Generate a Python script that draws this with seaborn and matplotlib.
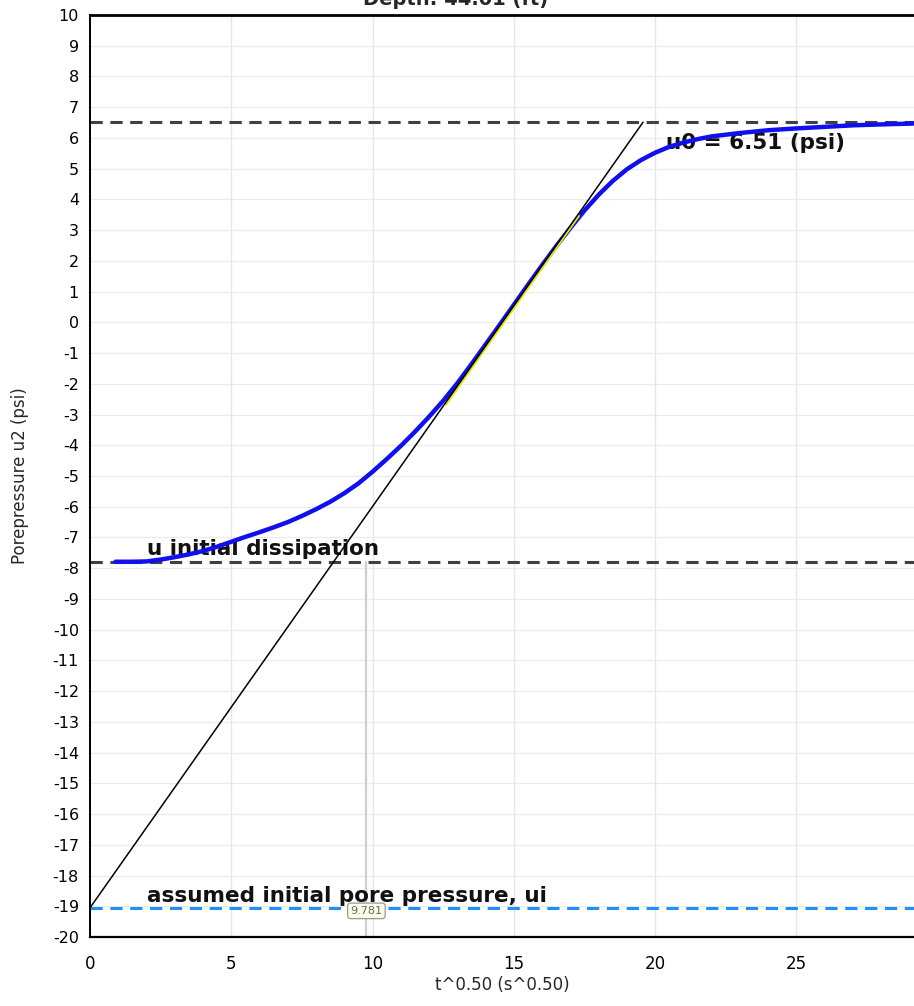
import matplotlib
matplotlib.use("Agg")
import matplotlib.pyplot as plt
import seaborn as sns
import pandas as pd

# Dissipation record: porepressure u2 versus square root of time
sqrt_t = [0.9, 1.5, 2.0, 2.5, 3.0, 3.5, 4.0, 4.5, 5.0, 5.5, 6.0, 6.5, 7.0, 7.5,
          8.0, 8.5, 9.0, 9.5, 10.0, 10.5, 11.0, 11.5, 12.0, 12.5, 13.0, 13.5,
          14.0, 14.5, 15.0, 15.5, 16.0, 16.5, 17.0, 17.5, 18.0, 18.5, 19.0,
          19.5, 20.0, 20.5, 21.0, 21.5, 22.0, 23.0, 24.0, 25.0, 26.0, 27.0,
          28.0, 29.2]
u2 = [-7.79, -7.79, -7.78, -7.72, -7.64, -7.55, -7.44, -7.30, -7.14, -6.98,
      -6.83, -6.67, -6.50, -6.30, -6.08, -5.84, -5.56, -5.24, -4.86, -4.45,
      -4.02, -3.56, -3.07, -2.55, -1.98, -1.36, -0.72, -0.08, 0.57, 1.22,
      1.86, 2.48, 3.07, 3.64, 4.15, 4.60, 4.98, 5.28, 5.52, 5.71, 5.85,
      5.96, 6.05, 6.16, 6.25, 6.31, 6.36, 6.41, 6.44, 6.47]

# Reference levels (psi)
u0 = 6.51
u_initial_dissipation = -7.79
ui = -19.05

# Tangent through the steepest part of the curve
tangent_x = [0.0, 19.57]
tangent_y = [ui, u0]
fit_x = [12.6, 17.3]   # extent of the fitted segment

t50_marker = 9.781

depth_title = "Depth: 44.01 (ft)"
x_label = "t^0.50 (s^0.50)"
y_label = "Porepressure u2 (psi)"
x_ticks = [0, 5, 10, 15, 20, 25]
y_ticks = list(range(-20, 11))

sns.set_style("white")
plt.rcParams["font.family"] = ["DejaVu Sans"]
plt.rcParams["axes.unicode_minus"] = False

fig = plt.figure(figsize=(9.14, 10.06), dpi=100)
ax = fig.add_axes([0.0985, 0.0686, 0.9015, 0.9165])

ax.set_xlim(0, 29.16)
ax.set_ylim(-20, 10)

# faint grid
for y in y_ticks:
    ax.axhline(y, color="#ebebeb", lw=0.9, zorder=0)
for x in x_ticks:
    ax.axvline(x, color="#e6e6e6", lw=0.9, zorder=0)

# marker line for t50
ax.plot([t50_marker, t50_marker], [-20, u_initial_dissipation], color="#cfcfcf", lw=1.6, zorder=1)

# reference levels
ax.axhline(u0, color="#404040", lw=2.2, ls=(0, (4, 2.5)), zorder=2)
ax.axhline(u_initial_dissipation, color="#404040", lw=2.2, ls=(0, (4, 2.5)), zorder=2)
ax.axhline(ui, color="#1e8fff", lw=2.2, ls=(0, (4, 2.5)), zorder=2)

df = pd.DataFrame({"t": sqrt_t, "u2": u2})
sns.lineplot(data=df, x="t", y="u2", ax=ax, color="#1010ee", lw=3.2, zorder=4)

# fitted segment and tangent
slope = (tangent_y[1] - tangent_y[0]) / (tangent_x[1] - tangent_x[0])
fy = [tangent_y[0] + slope * (fx - tangent_x[0]) - 0.08 for fx in fit_x]
ax.plot(fit_x, fy, color="#e6e600", lw=1.6, zorder=5)
ax.plot(tangent_x, tangent_y, color="black", lw=1.1, zorder=6)

# annotations
bold = dict(fontsize=15.5, fontweight="bold", color="#111111")
ax.text(20.4, 5.85, f"u0 = {u0:.2f} (psi)", va="center", ha="left", zorder=3, **bold)
ax.text(2.0, -7.38, "u initial dissipation", va="center", ha="left", zorder=3, **bold)
ax.text(2.0, -18.68, "assumed initial pore pressure, ui", va="center", ha="left", zorder=3, **bold)
ax.text(t50_marker, -19.15, f"{t50_marker:.3f}", fontsize=8, ha="center", va="center",
        color="#666666", zorder=3,
        bbox=dict(boxstyle="round,pad=0.25", fc="#fdfde8", ec="#999999", lw=0.9))

ax.set_xticks(x_ticks)
ax.set_yticks(y_ticks)
ax.set_yticklabels([str(v) for v in y_ticks])
ax.tick_params(axis="both", direction="out", length=5, width=1.2, colors="black",
               labelsize=11.5, pad=3)
ax.tick_params(axis="x", length=7, labelsize=12, pad=6)

ax.set_xlabel(x_label, fontsize=12, labelpad=2)
ax.set_ylabel(y_label, fontsize=12, labelpad=17)

for side in ["left", "bottom", "top"]:
    ax.spines[side].set_visible(True)
    ax.spines[side].set_color("black")
ax.spines["left"].set_linewidth(1.4)
ax.spines["bottom"].set_linewidth(1.6)
ax.spines["top"].set_linewidth(2.0)
ax.spines["right"].set_visible(False)

fig.text(0.498, 0.995, depth_title, ha="center", va="baseline",
         fontsize=14, fontweight="bold")

fig.savefig("out.png", dpi=100)
